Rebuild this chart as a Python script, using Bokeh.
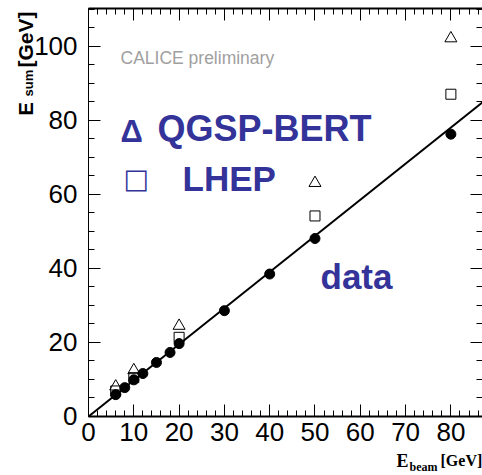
import math
from bokeh.plotting import figure
from bokeh.models import Range1d, LinearAxis, FixedTicker, Label
from bokeh.embed import file_html
from bokeh.resources import INLINE

# ---- data ----
e_beam_data = [6, 8, 10, 12, 15, 18, 20, 30, 40, 50, 80]
e_sum_data = [5.9, 7.8, 9.9, 11.6, 14.6, 17.3, 19.7, 28.6, 38.5, 48.1, 76.3]

e_beam_mc = [6, 10, 20, 50, 80]
e_sum_qgsp_bert = [8.1, 12.5, 24.5, 63.1, 102.2]
e_sum_lhep = [6.9, 10.5, 21.4, 54.2, 87.1]

fit_x = [0, 87]
fit_y = [0, 84.9]

x_major_ticks = [0, 10, 20, 30, 40, 50, 60, 70, 80]
x_minor_ticks = [v for v in range(0, 87, 2)]
y_major_ticks = [0, 20, 40, 60, 80, 100]
y_minor_ticks = [v for v in range(0, 111, 5)]

BLUE = "#333399"
SANS = "Liberation Sans"
SERIF = "Liberation Serif"

# plot box: x 0..86.98, y 0..110.27; frame covers whole canvas
X_END = 86.98
Y_TOP = 110.27
p = figure(width=482, height=475,
           x_range=Range1d(-19.43, X_END), y_range=Range1d(-15.95, 112.43),
           min_border=0, min_border_left=0, min_border_right=0,
           min_border_top=0, min_border_bottom=0,
           output_backend="svg", toolbar_location=None)
p.grid.visible = False
p.outline_line_color = None
p.background_fill_color = "white"
p.border_fill_color = "white"


def style(ax, major, minor, labels=True, line_width=1):
    ax.ticker = FixedTicker(ticks=major, minor_ticks=minor)
    ax.major_tick_in = 12
    ax.major_tick_out = 0
    ax.minor_tick_in = 6
    ax.minor_tick_out = 0
    ax.axis_line_color = "black"
    ax.axis_line_width = line_width
    ax.major_tick_line_color = "black"
    ax.minor_tick_line_color = "black"
    ax.major_label_text_font = SANS
    ax.major_label_text_font_size = "26px"
    ax.major_label_text_color = "black"
    if not labels:
        ax.major_label_overrides = {v: "" for v in major}


bottom = p.xaxis[0]
style(bottom, x_major_ticks, x_minor_ticks, line_width=2)
bottom.fixed_location = 0
bottom.bounds = (0, X_END)
bottom.major_label_standoff = 7

left = p.yaxis[0]
style(left, y_major_ticks, y_minor_ticks, line_width=1)
left.fixed_location = 0
left.bounds = (0, Y_TOP)
left.major_label_standoff = 11

top = LinearAxis()
style(top, x_major_ticks, x_minor_ticks, labels=False, line_width=2)
top.fixed_location = Y_TOP
top.bounds = (0, X_END)
p.add_layout(top, "above")

right = LinearAxis()
style(right, y_major_ticks, y_minor_ticks, labels=False, line_width=1)
right.fixed_location = X_END
right.bounds = (0, Y_TOP)
p.add_layout(right, "right")

# fit line
p.line(fit_x, fit_y, line_color="black", line_width=2)

# MC markers (open)
p.scatter(e_beam_mc, e_sum_qgsp_bert, marker="triangle", size=12,
          line_color="black", line_width=1, fill_alpha=0)
p.scatter(e_beam_mc, e_sum_lhep, marker="square", size=10,
          line_color="black", line_width=1, fill_alpha=0)
# data (filled)
p.scatter(e_beam_data, e_sum_data, marker="circle", size=10,
          line_color="black", fill_color="black")


def lab(text, x, y, size, color=BLUE, font=SANS, style="bold", angle=0):
    p.add_layout(Label(x=x, y=y, x_units="screen", y_units="screen", text=text,
                       text_font=font, text_font_size=size, text_font_style=style,
                       text_color=color, text_baseline="alphabetic", text_align="left",
                       angle=angle))


# annotations (screen coords from the canvas' bottom-left corner)
lab("CALICE preliminary", 120, 418, "17.5px", color="#a0a0a0", style="normal")
lab("\u0394", 120, 344, "31px")
lab("QGSP-BERT", 157, 347, "36px")
lab("\u25a1", 123, 297, "27px", font="DejaVu Sans", style="normal")
lab("LHEP", 182, 297, "35px")
lab("data", 320, 199, "35px")

# x axis title
lab("E", 396, 15, "18px", color="black", font=SERIF)
lab("beam", 409, 9, "12px", color="black", font=SERIF)
lab("[GeV]", 440, 15, "16px", color="black", font=SERIF)

# y axis title (rotated)
lab("E", 25, 360, "20px", color="black", angle=math.pi / 2)
lab("sum", 28, 379, "13px", color="black", angle=math.pi / 2)
lab("[GeV]", 25, 408, "21px", color="black", angle=math.pi / 2)

open("out.html", "w").write(file_html(p, INLINE))
